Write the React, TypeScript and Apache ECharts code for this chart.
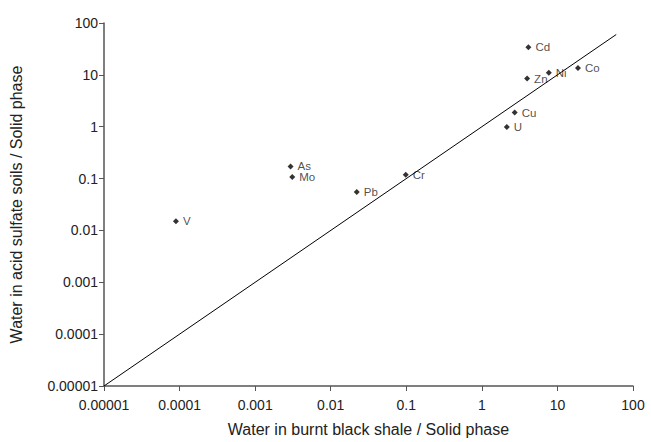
import React, { useEffect, useRef } from "react";
import * as echarts from "echarts";

const elements = ["Cd", "Zn", "Ni", "Co", "Cu", "U", "As", "Mo", "Pb", "Cr", "V"];
const burntShale = [4.13, 3.97, 7.69, 18.7, 2.72, 2.14, 0.00294, 0.0031, 0.0221, 0.0984, 0.0000895];
const acidSulfate = [34.1, 8.49, 11.0, 13.5, 1.87, 0.99, 0.171, 0.107, 0.0551, 0.118, 0.01496];
const oneToOne = [
  [0.00001, 0.00001],
  [60, 60],
];
const tickLabels = ["0.00001", "0.0001", "0.001", "0.01", "0.1", "1", "10", "100"];

const fmt = (v: number) => {
  const e = Math.round(Math.log10(v));
  return tickLabels[e + 5] ?? "";
};

export default function App() {
  const ref = useRef<HTMLDivElement>(null);
  useEffect(() => {
    document.body.style.margin = "0";
    const chart = echarts.init(ref.current!, undefined, { renderer: "svg" });
    const font = "Liberation Sans, Arial, sans-serif";
    const axisCommon = {
      type: "log" as const,
      logBase: 10,
      min: 0.00001,
      max: 100,
      splitLine: { show: false },
      minorTick: { show: false },
      axisLine: { show: true, lineStyle: { color: "#555", width: 1.5 } },
      axisTick: { show: true, inside: false, length: 5, lineStyle: { color: "#555" } },
      nameLocation: "middle" as const,
      nameTextStyle: { color: "#222", fontSize: 16, fontFamily: font },
    };
    chart.setOption({
      animation: false,
      backgroundColor: "#fff",
      grid: { left: 102, right: 18, top: 23, bottom: 53, containLabel: false },
      xAxis: {
        ...axisCommon,
        axisLabel: { formatter: fmt, color: "#222", fontSize: 14, fontFamily: font, margin: 12 },
        name: "Water in burnt black shale / Solid phase",
        nameGap: 35,
      },
      yAxis: {
        ...axisCommon,
        axisLabel: { formatter: fmt, color: "#222", fontSize: 14, fontFamily: font, margin: 6 },
        name: "Water in acid sulfate soils / Solid phase",
        nameGap: 80,
      },
      series: [
        {
          type: "line",
          data: oneToOne,
          symbol: "none",
          lineStyle: { color: "#000", width: 1 },
          silent: true,
        },
        {
          type: "scatter",
          symbol: "diamond",
          symbolSize: 6,
          itemStyle: { color: "#000" },
          data: elements.map((n, i) => ({ name: n, value: [burntShale[i], acidSulfate[i]] })),
          label: {
            show: true,
            position: "right",
            distance: 4,
            formatter: (p: any) => p.name,
            color: "#222",
            fontSize: 11.5,
            fontFamily: font,
          },
        },
      ],
    });
    return () => chart.dispose();
  }, []);
  return <div ref={ref} style={{ width: 651, height: 442 }} />;
}
